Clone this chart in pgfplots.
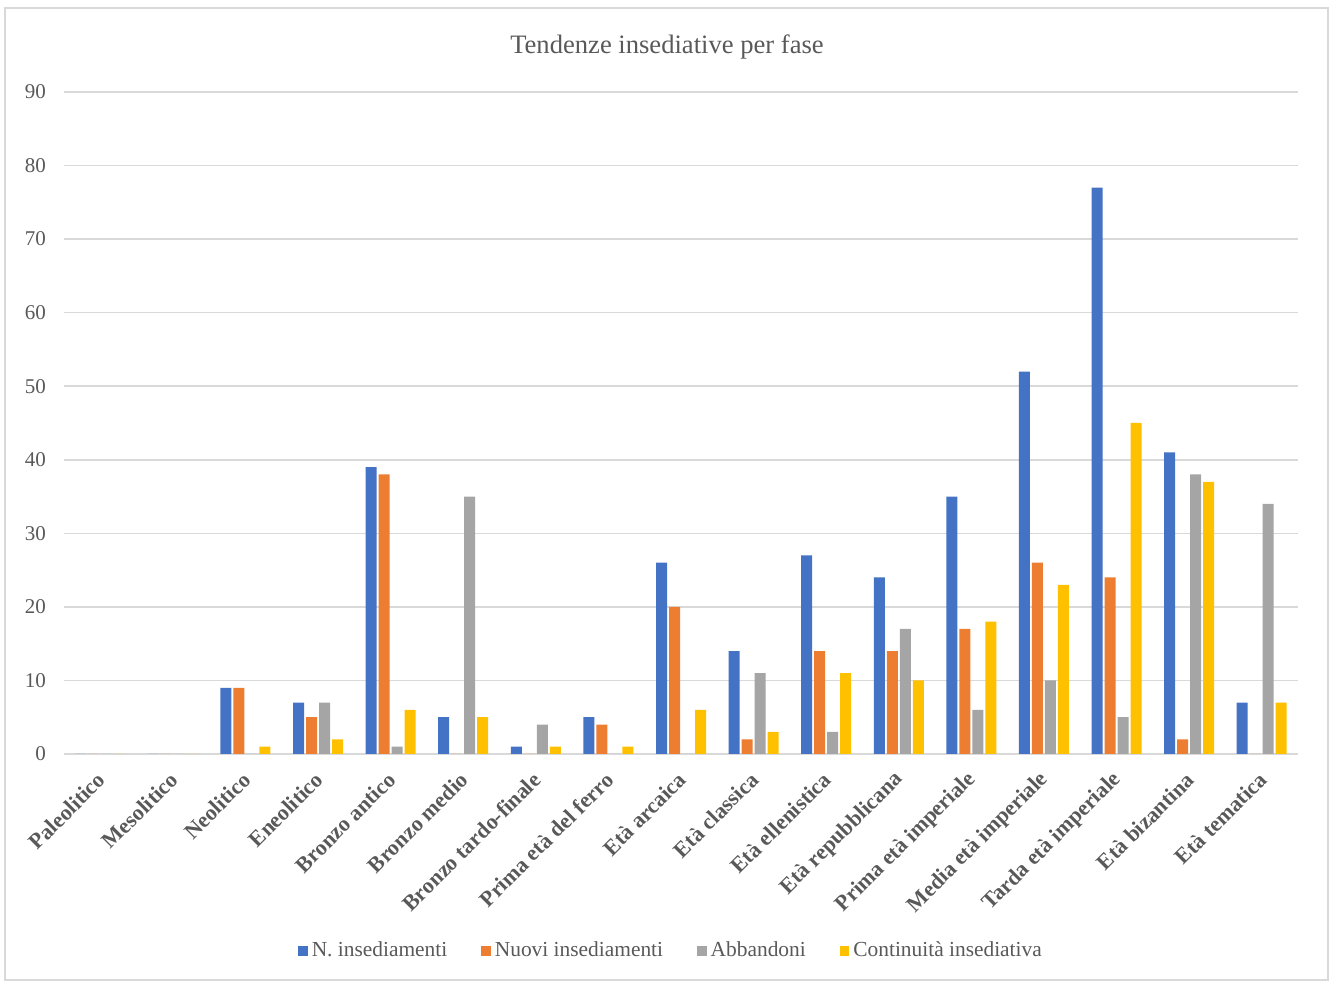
\documentclass[border=0pt]{standalone}
\usepackage{fontspec}
\setmainfont{Liberation Serif}
\usepackage{pgfplots}
\usepackage{pgfplotstable}
\pgfplotsset{compat=1.18}
\definecolor{cBlue}{HTML}{4472C4}
\definecolor{cOrange}{HTML}{ED7D31}
\definecolor{cGray}{HTML}{A5A5A5}
\definecolor{cYellow}{HTML}{FFC000}
\definecolor{txt}{HTML}{595959}
\definecolor{gridc}{HTML}{D9D9D9}
\pgfplotstableread{
x n nuovi abb cont
0 0 0 0 0
1 0 0 0 0
2 9 9 0 1
3 7 5 7 2
4 39 38 1 6
5 5 0 35 5
6 1 0 4 1
7 5 4 0 1
8 26 20 0 6
9 14 2 11 3
10 27 14 3 11
11 24 14 17 10
12 35 17 6 18
13 52 26 10 23
14 77 24 5 45
15 41 2 38 37
16 7 0 34 7
}\data
\begin{document}
\begin{tikzpicture}
\useasboundingbox (0,0) rectangle (667pt,491.5pt);
\draw[gridc, line width=0.7pt] (2.5pt,1.5pt) rectangle (664pt,487.5pt);
\begin{axis}[
  at={(32pt,114.5pt)}, anchor=south west,
  scale only axis, width=617pt, height=331pt,
  ybar=1pt, bar width=5.5pt,
  xmin=-0.5, xmax=16.5, ymin=0, ymax=90,
  ytick={0,10,...,90},
  xtick=data,
  xticklabels={Paleolitico,Mesolitico,Neolitico,Eneolitico,Bronzo antico,Bronzo medio,Bronzo tardo-finale,Prima età del ferro,Età arcaica,Età classica,Età ellenistica,Età repubblicana,Prima età imperiale,Media età imperiale,Tarda età imperiale,Età bizantina,Età tematica},
  xticklabel style={xshift=3pt, yshift=-8.7pt, rotate=45, anchor=east, font=\fontsize{11}{13}\selectfont\bfseries, text=txt},
  yticklabel style={font=\fontsize{10.5}{12}\selectfont, text=txt, xshift=-5.5pt},
  /pgf/number format/assume math mode=true,
  major tick length=0pt,
  axis line style={draw=none},
  xmajorgrids=false,
  ymajorgrids=true, y grid style={gridc, line width=0.8pt},
  title={Tendenze insediative per fase},
  title style={at={(0.5,1)}, anchor=center, yshift=16.5pt, xshift=-7pt, font=\fontsize{13.3}{16}\selectfont, text=txt},
  legend columns=4,
  legend style={at={(0.5,0)}, anchor=center, yshift=-98.5pt, xshift=-4.5pt, draw=none, font=\fontsize{10.7}{12}\selectfont, text=txt, /tikz/every even column/.append style={column sep=15pt}},
  legend image code/.code={\fill[#1] (0pt,-2.4pt) rectangle (4.8pt,2.4pt);},
]
\addplot[fill=cBlue, draw=none] table[x=x, y=n] {\data};
\addplot[fill=cOrange, draw=none] table[x=x, y=nuovi] {\data};
\addplot[fill=cGray, draw=none] table[x=x, y=abb] {\data};
\addplot[fill=cYellow, draw=none] table[x=x, y=cont] {\data};
\legend{N. insediamenti, Nuovi insediamenti, Abbandoni, Continuità insediativa}
\end{axis}
\end{tikzpicture}
\end{document}
